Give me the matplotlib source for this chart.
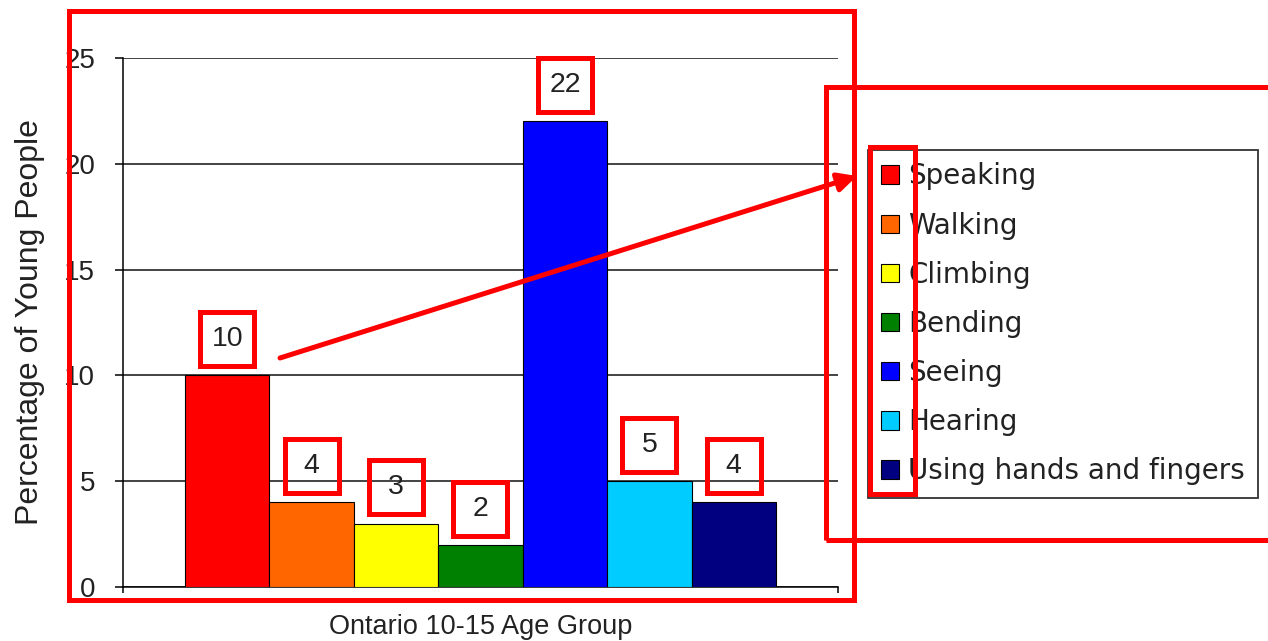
import matplotlib
matplotlib.use('Agg')
import matplotlib.pyplot as plt
from matplotlib.patches import Rectangle, FancyArrowPatch
from matplotlib.transforms import offset_copy

# data
categories = ['Speaking', 'Walking', 'Climbing', 'Bending', 'Seeing',
              'Hearing', 'Using hands and fingers']
values = [10, 4, 3, 2, 22, 5, 4]
colors = ['#FF0000', '#FF6600', '#FFFF00', '#008000', '#0000FF',
          '#00CCFF', '#000080']
y_ticks = [0, 5, 10, 15, 20, 25]
x_label = 'Ontario 10-15 Age Group'
y_label = 'Percentage of Young People'

plt.rcParams['font.family'] = ['Liberation Sans', 'DejaVu Sans']

W, H = 1268, 641
fig = plt.figure(figsize=(W / 100, H / 100), dpi=100)
fig.patch.set_facecolor('white')


def px(x, y):
    # pixel position in the picture -> figure fraction
    return (x / W, 1 - y / H)


ax = fig.add_axes([123 / W, 1 - 587 / H, (838 - 123) / W, (587 - 58) / H])

for i, (cat, v, c) in enumerate(zip(categories, values, colors)):
    ax.bar(i, v, width=1.0, color=c, edgecolor='black', linewidth=0.8,
           label=cat, zorder=3)

ax.set_ylim(0, 25)
ax.set_xlim(-1.235, len(values) - 1 + 1.235)
ax.set_yticks(y_ticks)
ax.yaxis.grid(True, color='#111111', linewidth=1.1)
ax.set_axisbelow(True)

ax.set_xticks(ax.get_xlim())
ax.set_xticklabels([])
ax.tick_params(axis='x', direction='out', length=4, width=1.1)
ax.tick_params(axis='y', direction='out', length=6, width=1.1, pad=14,
               labelsize=20, labelcolor='#222222')
for s in ['top', 'right']:
    ax.spines[s].set_visible(False)
for s in ['left', 'bottom']:
    ax.spines[s].set_linewidth(1.1)

ax.set_xlabel(x_label, fontsize=19.5, labelpad=12, color='#222222')
ax.set_ylabel(y_label, fontsize=23, labelpad=14, color='#222222')

# value labels with red boxes drawn round them
trans = offset_copy(ax.transData, fig=fig, x=0, y=26, units='points')
for i, v in enumerate(values):
    ax.text(i, v, str(v), transform=trans, ha='center', va='center',
            fontsize=20.5, color='#222222', zorder=5)
    ax.plot(i, v, marker='s', ms=39, mfc='none', mec='#FF0000', mew=3.6,
            transform=trans, clip_on=False, zorder=5)

leg = fig.legend(loc='upper left', bbox_to_anchor=px(868, 150),
                 borderaxespad=0, fancybox=False, edgecolor='#333333',
                 framealpha=1, prop={'family': 'DejaVu Sans', 'size': 20},
                 handlelength=0.65, handleheight=0.65, handletextpad=0.35,
                 labelspacing=0.76, borderpad=0.45)
leg.get_frame().set_linewidth(1.3)
for t in leg.get_texts():
    t.set_color('#222222')

# red highlight marks on top of the chart
red = '#FF0000'
fig.add_artist(Rectangle(px(69, 600), (854 - 69) / W, (600 - 11) / H,
                         fill=False, ec=red, lw=3.6, zorder=10,
                         transform=fig.transFigure))
fig.add_artist(Rectangle(px(826, 540), (1300 - 826) / W, (540 - 87) / H,
                         fill=False, ec=red, lw=3.6, zorder=10,
                         transform=fig.transFigure))
fig.add_artist(Rectangle(px(870, 494), (915 - 870) / W, (494 - 147) / H,
                         fill=False, ec=red, lw=3.6, zorder=10,
                         transform=fig.transFigure))
fig.add_artist(FancyArrowPatch(px(280, 358), px(857, 176),
                               transform=fig.transFigure, arrowstyle='-|>',
                               mutation_scale=28, color=red, lw=3.6,
                               shrinkA=0, shrinkB=0, zorder=10))

fig.savefig('out.png', dpi=100)
